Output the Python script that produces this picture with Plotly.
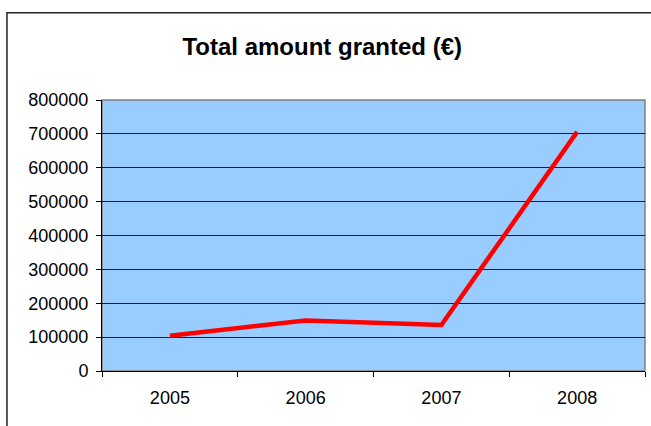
import plotly.graph_objects as go

years = ['2005', '2006', '2007', '2008']
amount_granted = [104000, 149000, 136000, 706000]
y_ticks = [0, 100000, 200000, 300000, 400000, 500000, 600000, 700000, 800000]

fig = go.Figure()

fig.add_trace(go.Scatter(
    x=years,
    y=amount_granted,
    mode='lines',
    line=dict(color='#FF0000', width=4.5),
    showlegend=False
))

fig.update_layout(
    width=651,
    height=426,
    margin=dict(l=102, r=6, t=100, b=55),
    plot_bgcolor='#99CCFF',
    paper_bgcolor='white',
    font=dict(family='Liberation Sans, Arial', size=18, color='black'),
    title=dict(
        text='<b>Total amount granted (€)</b>',
        font=dict(size=24, color='black'),
        x=0.495, xref='container', xanchor='center',
        y=0.89, yref='container', yanchor='middle'
    ),
    shapes=[
        # plot area frame (grey top/right)
        dict(type='rect', xref='paper', yref='paper', x0=0, y0=0, x1=1, y1=1,
             line=dict(color='#808080', width=1.5), layer='below'),
        # outer chart border
        dict(type='rect', xref='paper', yref='paper', x0=-0.175, y0=-0.25, x1=1.02, y1=1.322,
             line=dict(color='#222222', width=1.5)),
    ]
)

fig.update_xaxes(
    type='category',
    range=[-0.5, 3.5],
    showgrid=False,
    showline=True,
    linewidth=1,
    linecolor='black',
    ticks='outside',
    tickson='boundaries',
    ticklen=5,
    tickcolor='black',
    ticklabelstandoff=10,
    fixedrange=True
)

fig.update_yaxes(
    range=[0, 800000],
    tickvals=y_ticks,
    ticktext=[str(v) for v in y_ticks],
    showgrid=True,
    gridwidth=1,
    gridcolor='#1a1a1a',
    zeroline=False,
    showline=True,
    linewidth=1,
    linecolor='black',
    ticks='outside',
    ticklen=5,
    tickcolor='black',
    ticklabelstandoff=4
)

# drop the default page margin so the chart sits at the window origin
fig.write_html("out.html", config={'displayModeBar': False},
               post_script="document.body.style.margin='0';")
